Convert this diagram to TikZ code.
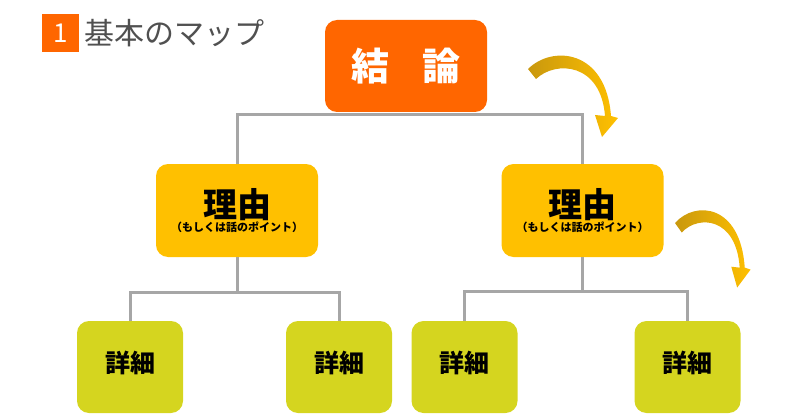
\documentclass[tikz,border=0pt]{standalone}
\usepackage{fontspec}
\newfontfamily\cjk{Noto Sans CJK JP}
\usetikzlibrary{arrows.meta}

\definecolor{conclusion}{HTML}{FF6600}
\definecolor{reason}{HTML}{FFC000}
\definecolor{detail}{HTML}{D5D51F}
\definecolor{wiregray}{HTML}{A6A6A6}
\definecolor{titlegray}{HTML}{505050}
\definecolor{arrowdark}{HTML}{C9980E}
\definecolor{arrowlight}{HTML}{FFC000}

\tikzset{
  box/.style={rounded corners=12pt, inner sep=0pt},
  wire/.style={draw=wiregray, line width=3pt},
  turnarrow/.pic={
    \shade[left color=arrowdark, right color=arrowlight]
      (0,0) .. controls (24,-24) and (78,-20) .. (83,47) -- (90,49) -- (74,68)
      -- (67,46) -- (77,47) .. controls (73,-6) and (28,-9) .. (8,10) -- cycle;
  }
}

\begin{document}
\begin{tikzpicture}[x=1pt, y=-1pt]
  \useasboundingbox (0,0) rectangle (800,417);

  \node[fill=conclusion, minimum width=37pt, minimum height=38pt, inner sep=0pt,
        text=white, font=\cjk\fontsize{26pt}{26pt}\selectfont] (num) at (60.5,33) {1};
  \node[anchor=west, inner sep=0pt, text=titlegray,
        font=\cjk\fontsize{30pt}{30pt}\selectfont] (title) at (84,33) {基本のマップ};

  \node[box, fill=conclusion, minimum width=162pt, minimum height=92pt, text=white,
        font=\cjk\bfseries\fontsize{38pt}{38pt}\selectfont] (ketsuron) at (406,66) {結\hspace{0.85em}論};

  \foreach \name/\x in {riyuL/237, riyuR/582.5}
    \node[box, fill=reason, minimum width=162pt, minimum height=93pt, align=center,
          font=\cjk\bfseries\fontsize{34pt}{14pt}\selectfont] (\name) at (\x,210.5)
          {理由\\{\fontsize{11pt}{14pt}\selectfont （もしくは話のポイント）}};

  \foreach \name/\x in {shosai1/130, shosai2/339, shosai3/464.5, shosai4/687.5}
    \node[box, fill=detail, minimum width=106pt, minimum height=92pt,
          font=\cjk\bfseries\fontsize{25pt}{25pt}\selectfont] (\name) at (\x,367)
          {\raisebox{10pt}{詳細}};

  \coordinate (fork) at (406,115);
  \draw[wire] (riyuL.north) |- (fork) -| (riyuR.north);

  \path (riyuL.south) ++(0,35) coordinate (forkL);
  \draw[wire] (riyuL.south) -- (forkL);
  \draw[wire] (shosai1.north) |- (forkL) -| (shosai2.north);

  \path (riyuR.south) ++(0,34) coordinate (forkR);
  \draw[wire] (riyuR.south) -- (forkR);
  \draw[wire] (shosai3.north) |- (forkR) -| (shosai4.north);

  \pic at (528,69) {turnarrow};
  \pic[xscale=0.84, yscale=0.95] at (675,223) {turnarrow};
\end{tikzpicture}
\end{document}
